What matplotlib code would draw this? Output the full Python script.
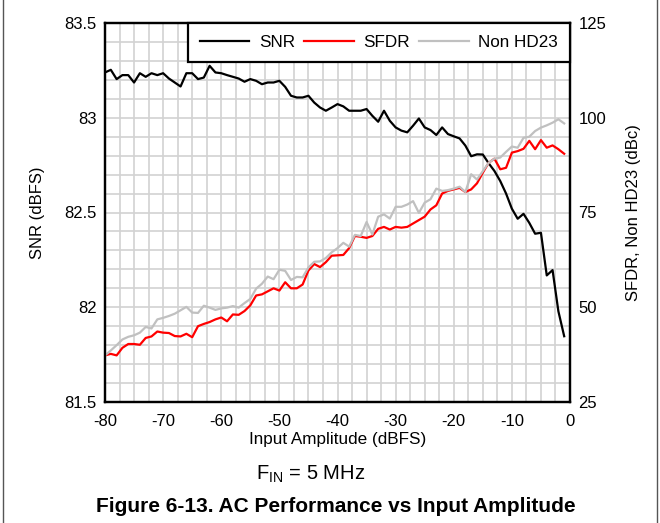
import matplotlib
matplotlib.use("Agg")
import matplotlib.pyplot as plt
from matplotlib.ticker import MultipleLocator
from matplotlib.lines import Line2D

plt.rcParams['font.family'] = ['Liberation Sans', 'DejaVu Sans']
plt.rcParams['axes.unicode_minus'] = False
plt.rcParams['mathtext.fontset'] = 'custom'
plt.rcParams['mathtext.rm'] = 'Liberation Sans'

# ---- data ----
input_amp = list(range(-80, 0))  # -80 .. -1 dBFS

snr = [83.239, 83.253, 83.204, 83.225, 83.225, 83.186, 83.235, 83.216, 83.235, 83.225,
       83.235, 83.207, 83.186, 83.165, 83.235, 83.235, 83.204, 83.212, 83.274, 83.239,
       83.235, 83.225, 83.216, 83.207, 83.190, 83.204, 83.195, 83.177, 83.186, 83.186,
       83.195, 83.163, 83.116, 83.107, 83.107, 83.116, 83.080, 83.054, 83.037, 83.054,
       83.072, 83.060, 83.037, 83.037, 83.037, 83.046, 83.010, 82.979, 83.037, 82.984,
       82.949, 82.932, 82.923, 82.958, 82.996, 82.949, 82.935, 82.909, 82.949, 82.914,
       82.902, 82.891, 82.853, 82.797, 82.807, 82.806, 82.760, 82.719, 82.666, 82.600,
       82.520, 82.467, 82.493, 82.445, 82.388, 82.393, 82.168, 82.196, 81.979, 81.847]

sfdr = [37.3, 37.7, 37.3, 39.3, 40.3, 40.3, 40.1, 41.9, 42.3, 43.6,
        43.3, 43.2, 42.4, 42.3, 43.0, 42.1, 45.0, 45.6, 46.1, 46.8,
        47.3, 46.3, 48.1, 48.0, 49.0, 50.5, 53.1, 53.4, 54.2, 55.0,
        54.4, 56.6, 55.0, 55.0, 56.0, 59.7, 61.4, 60.6, 61.9, 63.6,
        63.7, 63.8, 65.6, 68.8, 68.6, 68.3, 68.8, 70.7, 71.2, 70.5,
        71.2, 71.0, 71.2, 72.1, 73.0, 73.9, 75.8, 76.9, 80.0, 80.7,
        81.1, 81.5, 80.4, 81.1, 82.7, 85.5, 88.1, 89.2, 86.4, 86.8,
        90.8, 91.2, 91.8, 93.9, 91.7, 94.1, 92.1, 92.7, 91.7, 90.5]

non_hd23 = [37.3, 38.6, 40.0, 41.5, 42.2, 42.6, 43.3, 44.8, 44.4, 46.8,
            47.2, 47.7, 48.3, 49.2, 50.1, 48.6, 48.5, 50.4, 49.9, 49.3,
            49.7, 49.9, 50.3, 49.9, 51.1, 52.2, 54.9, 56.2, 58.1, 57.4,
            59.9, 59.6, 57.2, 58.0, 57.9, 60.5, 62.0, 62.1, 63.0, 64.5,
            65.6, 67.0, 66.0, 69.1, 68.8, 72.5, 69.2, 73.9, 74.5, 73.4,
            76.5, 76.5, 77.1, 78.0, 74.9, 77.6, 78.5, 81.3, 80.7, 80.9,
            81.3, 81.8, 80.4, 85.1, 83.7, 85.9, 88.1, 89.2, 89.5, 91.0,
            92.4, 92.1, 94.7, 95.0, 96.5, 97.4, 98.0, 98.7, 99.6, 98.5]

x_ticks = [-80, -70, -60, -50, -40, -30, -20, -10, 0]
x_ticklabels = ['-80', '-70', '-60', '-50', '-40', '-30', '-20', '-10', '0']
left_ticks = [81.5, 82.0, 82.5, 83.0, 83.5]
left_ticklabels = ['81.5', '82', '82.5', '83', '83.5']
right_ticks = [25, 50, 75, 100, 125]
right_ticklabels = ['25', '50', '75', '100', '125']

# ---- figure ----
W, H = 660, 523
fig = plt.figure(figsize=(W / 100, H / 100), dpi=100)
fig.patch.set_facecolor('white')

L, R, T, B = 105, 570, 23, 402
ax = fig.add_axes([L / W, 1 - B / H, (R - L) / W, (B - T) / H])
ax.set_xlim(-80, 0)
ax.set_ylim(81.5, 83.5)
ax.set_xticks(x_ticks)
ax.set_xticklabels(x_ticklabels)
ax.set_yticks(left_ticks)
ax.set_yticklabels(left_ticklabels)
ax.xaxis.set_minor_locator(MultipleLocator(2.5))
ax.yaxis.set_minor_locator(MultipleLocator(0.1))
ax.grid(which='both', color='#d2d2d2', linewidth=1.2)
ax.set_axisbelow(True)
ax.tick_params(which='both', length=0, labelsize=12, pad=6)
ax.tick_params(axis='x', pad=9)

l1, = ax.plot(input_amp, snr, color='black', linewidth=1.6, label='SNR')

ax2 = ax.twinx()
ax2.set_ylim(25, 125)
ax2.set_yticks(right_ticks)
ax2.set_yticklabels(right_ticklabels)
ax2.tick_params(which='both', length=0, labelsize=12, pad=6)
l2, = ax2.plot(input_amp, sfdr, color='#ff0000', linewidth=1.6, label='SFDR')
l3, = ax2.plot(input_amp, non_hd23, color='#c0c0c0', linewidth=1.6, label='Non HD23')

for a in (ax, ax2):
    for s in a.spines.values():
        s.set_linewidth(1.6)
        s.set_color('black')

ax.set_xlabel('Input Amplitude (dBFS)', fontsize=12.3, labelpad=1.5)
ax.set_ylabel('SNR (dBFS)', fontsize=12, labelpad=14)
ax2.set_ylabel('SFDR, Non HD23 (dBc)', fontsize=12, labelpad=14, rotation=90)

leg = ax2.legend(handles=[l1, l2, l3], loc='upper right', ncol=3, borderaxespad=0,
                 frameon=True, fancybox=False, edgecolor='black', framealpha=1,
                 fontsize=12.3, handlelength=2.88, handletextpad=0.57,
                 columnspacing=0.55, borderpad=0.7)
leg.get_frame().set_linewidth(1.6)

fig.text(311 / W, 1 - 480 / H, r'$\mathregular{F_{IN}}$ = 5 MHz',
         ha='center', va='baseline', fontsize=14.5)
fig.text(336 / W, 1 - 512 / H, 'Figure 6-13. AC Performance vs Input Amplitude',
         ha='center', va='baseline', fontsize=15, fontweight='bold')

for xp in (3, 657):
    fig.add_artist(Line2D([xp / W, xp / W], [0, 1], transform=fig.transFigure,
                          color='#555555', linewidth=1))

fig.savefig('out.png', dpi=100)
